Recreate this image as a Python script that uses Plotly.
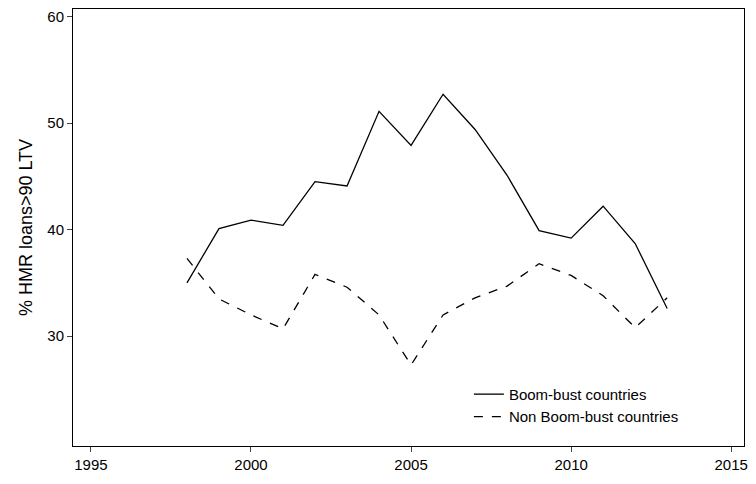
import plotly.graph_objects as go

years = list(range(1998, 2014))
boom_bust = [35.0, 40.1, 40.9, 40.4, 44.5, 44.1, 51.1, 47.9, 52.7, 49.4, 45.1, 39.9, 39.2, 42.2, 38.7, 32.6]
non_boom_bust = [37.3, 33.5, 32.0, 30.7, 35.8, 34.6, 32.0, 27.3, 32.0, 33.6, 34.7, 36.8, 35.7, 33.8, 30.8, 33.6]

fig = go.Figure()
fig.add_trace(go.Scatter(x=years, y=boom_bust, mode="lines", name="Boom-bust countries",
                         line=dict(color="black", width=1.3)))
fig.add_trace(go.Scatter(x=years, y=non_boom_bust, mode="lines", name="Non Boom-bust countries",
                         line=dict(color="black", width=1.3, dash="dash")))

# page body has an 8px margin, so the figure is a bit smaller than the window
fig.update_layout(
    width=748, height=476,
    paper_bgcolor="white", plot_bgcolor="white",
    font=dict(family="Liberation Sans, Arial", size=15, color="black"),
    margin=dict(l=65, r=12, t=1, b=38),
    legend=dict(x=0.59, y=0.03, xanchor="left", yanchor="bottom",
                bgcolor="rgba(0,0,0,0)", font=dict(size=15)),
    xaxis=dict(range=[1994.44, 2015.4], tickvals=[1995, 2000, 2005, 2010, 2015],
               showgrid=False, zeroline=False, ticks="outside", ticklen=5, automargin=False,
               showline=True, linecolor="black", mirror=True, ticklabeloverflow="allow"),
    yaxis=dict(range=[19.7, 60.7], tickvals=[30, 40, 50, 60], automargin=False,
               title=dict(text="% HMR loans>90 LTV", standoff=10),
               showgrid=False, zeroline=False, ticks="outside", ticklen=5,
               showline=True, linecolor="black", mirror=True, ticklabeloverflow="allow"),
)

fig.write_html("out.html")
